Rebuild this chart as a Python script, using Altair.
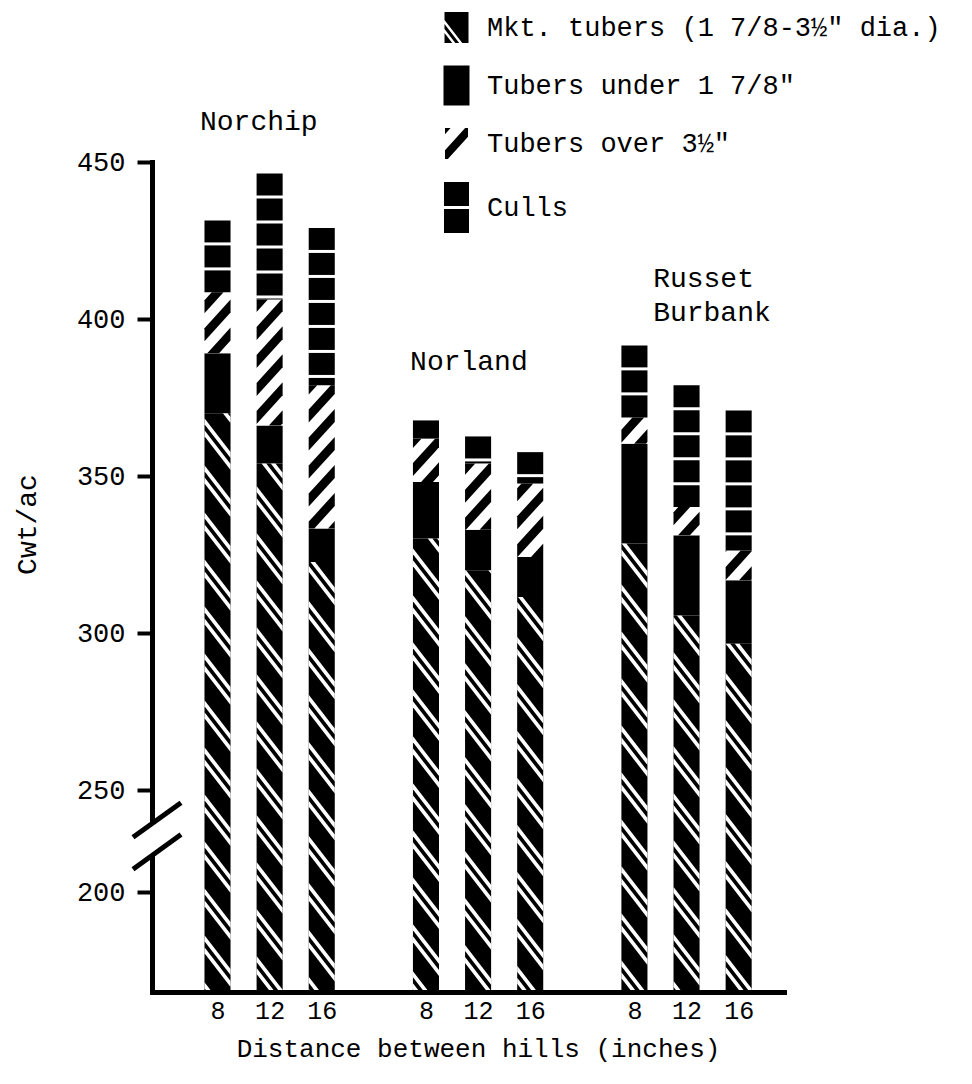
import json
import math
import altair as alt
import pandas as pd

# ---------------- data (cwt/ac) ----------------
GROUPS = ["Norchip", "Norland", "Russet\nBurbank"]
DISTANCES = ["8", "12", "16"]
SEGMENTS = ['Mkt. tubers (1 7/8-3½" dia.)', 'Tubers under 1 7/8"', 'Tubers over 3½"', "Culls"]
MKT = [370.0, 354.0, 322.6, 330.1, 320.0, 311.5, 328.5, 305.6, 296.6]
UNDER = [19.1, 12.1, 10.7, 18.0, 12.9, 12.7, 31.8, 25.5, 20.2]
OVER = [19.4, 40.1, 45.6, 13.8, 21.1, 23.4, 8.3, 9.0, 9.5]
CULLS = [22.9, 40.1, 50.1, 5.8, 8.6, 10.0, 23.0, 38.8, 44.6]

# ---------------- layout ----------------
FONT = "Liberation Mono"
W, H = 632, 830
XMIN, XMAX = -1.257, 10.87
YMIN, YMAX = 185.67, 450.0
BAR_HALF = 0.25
SLOTS_PER_GROUP = 4
Y_TICK_200 = 217.5          # where "200" sits on the broken axis
BREAK_HI, BREAK_LO = 239.3, 229.15
LABEL_DX = [-0.336, -0.305, 0.359]
LABEL_DY = [16.3, 18.5, 21.0]


def to_px(s, v):
    return ((s - XMIN) / (XMAX - XMIN) * W, (YMAX - v) / (YMAX - YMIN) * H)


def to_data(x, y):
    return (XMIN + x / W * (XMAX - XMIN), YMAX - y / H * (YMAX - YMIN))


def clip(poly, a, b, c):
    out = []
    n = len(poly)
    for i in range(n):
        P, Q = poly[i], poly[(i + 1) % n]
        fp = a * P[0] + b * P[1] - c
        fq = a * Q[0] + b * Q[1] - c
        if fp <= 0:
            out.append(P)
        if (fp < 0 < fq) or (fq < 0 < fp):
            t = fp / (fp - fq)
            out.append((P[0] + t * (Q[0] - P[0]), P[1] + t * (Q[1] - P[1])))
    return out


def poly_area(poly):
    s = 0
    for i in range(len(poly)):
        x1, y1 = poly[i]
        x2, y2 = poly[(i + 1) % len(poly)]
        s += x1 * y2 - x2 * y1
    return abs(s) / 2


def band_polys(rect, sign, k, period, bands):
    x0, y0, x1, y1 = rect
    corners = [(x0, y0), (x1, y0), (x1, y1), (x0, y1)]
    us = [y + sign * k * x for x, y in corners]
    res = []
    for n in range(math.floor(min(us) / period) - 1, math.ceil(max(us) / period) + 2):
        for off, w in bands:
            lo = n * period + off
            hi = lo + w
            p = clip(corners, sign * k, 1, hi)
            if len(p) >= 3:
                p = clip(p, -sign * k, -1, -lo)
            if len(p) >= 3 and poly_area(p) > 0.3:
                res.append(p)
    return res


def poly_to_area(poly):
    xs_ = sorted(set(round(x, 4) for x, _ in poly))
    pts = []
    for x in xs_:
        ys_ = []
        n = len(poly)
        for i in range(n):
            P, Q = poly[i], poly[(i + 1) % n]
            if min(P[0], Q[0]) - 1e-3 <= x <= max(P[0], Q[0]) + 1e-3:
                if abs(Q[0] - P[0]) < 1e-6:
                    ys_ += [P[1], Q[1]]
                else:
                    t = (x - P[0]) / (Q[0] - P[0])
                    ys_.append(P[1] + t * (Q[1] - P[1]))
        if ys_:
            pts.append((x, min(ys_), max(ys_)))
    return pts


# ---------------- build tables ----------------
bar_rows, white_rows, black_rows, gap_rows = [], [], [], []
sid = 0


def add_stripes(target, polys):
    global sid
    for p in polys:
        for kk, (x, ylo_px, yhi_px) in enumerate(poly_to_area(p)):
            s, v_bottom = to_data(x, yhi_px)
            _, v_top = to_data(x, ylo_px)
            target.append({"s": s, "vb": v_bottom, "vt": v_top, "sid": sid, "k": kk})
        sid += 1


for g in range(len(GROUPS)):
    for j in range(len(DISTANCES)):
        i = g * len(DISTANCES) + j
        slot = g * SLOTS_PER_GROUP + j
        t1 = MKT[i]
        t2 = t1 + UNDER[i]
        t3 = t2 + OVER[i]
        t4 = t3 + CULLS[i]
        segs = [(YMIN, t1, "black"), (t1, t2, "black"), (t2, t3, "white"), (t3, t4, "black")]
        for (a, b, fill), name in zip(segs, SEGMENTS):
            bar_rows.append({"x": slot - BAR_HALF, "x2": slot + BAR_HALF, "y": a, "y2": b,
                             "fill": fill, "seg": name})
        # marketable tubers: white double "\" lines on black
        xa, ya = to_px(slot - BAR_HALF, t1)
        xb, yb = to_px(slot + BAR_HALF, YMIN)
        add_stripes(white_rows, band_polys((xa, ya, xb, yb - 2), -1, 1.3, 47, [(0, 6), (12, 6)]))
        # tubers over 3.5": black "/" stripes on white
        xa, ya = to_px(slot - BAR_HALF, t3)
        xb, yb = to_px(slot + BAR_HALF, t2)
        add_stripes(black_rows, band_polys((xa, ya, xb, yb), 1, 1.1, 28, [(0, 13)]))
        # culls: stacked blocks separated by thin white gaps
        _, ytop = to_px(slot, t4)
        _, ybot = to_px(slot, t3)
        m = 0
        while True:
            gt = ytop + 22 + 25 * m
            if gt >= ybot - 1:
                break
            gb = min(gt + 3, ybot)
            gap_rows.append({"x": slot - BAR_HALF - 0.01, "x2": slot + BAR_HALF + 0.01,
                             "y": to_data(0, gb)[1], "y2": to_data(0, gt)[1]})
            m += 1

bars = pd.DataFrame(bar_rows)
white_stripes = pd.DataFrame(white_rows).sort_values(["sid", "k"])
black_stripes = pd.DataFrame(black_rows).sort_values(["sid", "k"])
gaps = pd.DataFrame(gap_rows)

label_rows = []
for g, name in enumerate(GROUPS):
    idx = range(g * 3, g * 3 + 3)
    tops = [MKT[i] + UNDER[i] + OVER[i] + CULLS[i] for i in idx]
    label_rows.append({"x": g * SLOTS_PER_GROUP + LABEL_DX[g], "y": max(tops) + LABEL_DY[g], "t": name})
labels = pd.DataFrame(label_rows)


# ---------------- legend symbols (custom paths) ----------------
def path_from(polys, r=13.0):
    parts = []
    for p in polys:
        parts.append("M" + " L".join(f"{x / r:.3f},{y / r:.3f}" for x, y in p) + " Z")
    return " ".join(parts)


ICON_MKT = path_from(band_polys((-12, -15.5, 12, 15.5), -1, 1.3, 1000, [(-60, 68), (12, 5), (21, 40)]))
ICON_UNDER = path_from([[(-13, -20), (13, -20), (13, 20), (-13, 20)]])
ICON_OVER = path_from(band_polys((-11.5, -15.5, 11.5, 15.5), 1, 1.1, 1000, [(-60, 38), (-6, 12)]))
ICON_CULLS = path_from([[(-12.5, -25.5), (12.5, -25.5), (12.5, -1.5), (-12.5, -1.5)],
                        [(-12.5, 1.5), (12.5, 1.5), (12.5, 25.5), (-12.5, 25.5)]])
ICONS = [ICON_MKT, ICON_UNDER, ICON_OVER, ICON_CULLS]
legend_df = pd.DataFrame({"seg": SEGMENTS})

# ---------------- axes ----------------
x_ticks = [g * SLOTS_PER_GROUP + j for g in range(len(GROUPS)) for j in range(len(DISTANCES))]
x_axis = alt.Axis(values=x_ticks,
                  labelExpr=json.dumps(DISTANCES) + f"[datum.value % {SLOTS_PER_GROUP}]",
                  title="Distance between hills (inches)", ticks=False, tickSize=0,
                  domainWidth=5, domainColor="black", domainCap="square",
                  labelFont=FONT, labelFontSize=25, labelColor="black", labelPadding=6,
                  titleFont=FONT, titleFontSize=26, titleFontWeight="normal", titleColor="black",
                  titleX=326, titleY=64, titleAlign="center", titleBaseline="alphabetic",
                  grid=False, zindex=1)
y_axis = alt.Axis(values=[Y_TICK_200, 250, 300, 350, 400, 450],
                  labelExpr="datum.value < 240 ? '200' : datum.label",
                  title="Cwt/ac", tickSize=15, tickWidth=4, tickColor="black",
                  domainWidth=5, domainColor="black", domainCap="square",
                  labelFont=FONT, labelFontSize=27, labelColor="black", labelPadding=12,
                  titleFont=FONT, titleFontSize=28, titleFontWeight="normal", titleColor="black",
                  titleX=-125, titleY=362, titleAngle=270, titleAlign="center",
                  titleBaseline="middle", grid=False, zindex=0)
xsc = alt.Scale(domain=[XMIN, XMAX], nice=False, zero=False)
ysc = alt.Scale(domain=[YMIN, YMAX], nice=False, zero=False)

bar_layer = alt.Chart(bars).mark_rect().encode(
    x=alt.X("x:Q", scale=xsc, axis=x_axis),
    x2="x2",
    y=alt.Y("y:Q", scale=ysc, axis=y_axis),
    y2="y2",
    fill=alt.Fill("fill:N", scale=None),
)


def stripe_layer(df, colour):
    return alt.Chart(df).mark_area(orient="vertical", color=colour, opacity=1,
                                   strokeWidth=0).encode(
        x=alt.X("s:Q", scale=xsc, axis=x_axis),
        y=alt.Y("vb:Q", scale=ysc, axis=y_axis, stack=None),
        y2="vt:Q",
        detail="sid:N",
    )


gap_layer = alt.Chart(gaps).mark_rect(color="white").encode(
    x=alt.X("x:Q", scale=xsc, axis=x_axis),
    x2="x2",
    y=alt.Y("y:Q", scale=ysc, axis=y_axis),
    y2="y2",
)

label_layer = alt.Chart(labels).mark_text(
    align="left", baseline="middle", font=FONT, fontSize=28, lineBreak="\n",
    lineHeight=34, color="black"
).encode(
    x=alt.X("x:Q", scale=xsc, axis=x_axis),
    y=alt.Y("y:Q", scale=ysc, axis=y_axis),
    text="t:N",
)

# axis break
gap_axis = alt.Chart(pd.DataFrame({"a": [BREAK_HI], "b": [BREAK_LO]})).mark_rule(
    color="white", strokeWidth=9
).encode(x=alt.value(0), y=alt.Y("a:Q", scale=ysc, axis=y_axis), y2="b")

slash_df = pd.DataFrame({"y": [BREAK_HI - 4.36, BREAK_LO - 4.36],
                         "y2": [BREAK_HI + 6.65, BREAK_LO + 6.65]})
slash_layer = alt.Chart(slash_df).mark_rule(color="black", strokeWidth=5).encode(
    x=alt.value(-19), x2=alt.value(29),
    y=alt.Y("y:Q", scale=ysc, axis=y_axis), y2="y2",
)

legend_layer = alt.Chart(legend_df).mark_point(filled=True, opacity=0, size=0, color="black").encode(
    x=alt.value(0), y=alt.value(0),
    shape=alt.Shape("seg:N", scale=alt.Scale(domain=SEGMENTS, range=ICONS),
                    legend=alt.Legend(orient="none", legendX=291, legendY=-148, title=None,
                                      labelFont=FONT, labelFontSize=27, labelColor="black",
                                      labelLimit=800, labelOffset=17, symbolSize=676,
                                      symbolFillColor="black", symbolStrokeColor="black",
                                      symbolStrokeWidth=0, symbolOpacity=1, rowPadding=22,
                                      padding=0, direction="vertical")),
)

chart = alt.layer(
    bar_layer, stripe_layer(white_stripes, "white"), stripe_layer(black_stripes, "black"),
    gap_layer, label_layer, gap_axis, slash_layer, legend_layer
).properties(
    width=W, height=H,
    autosize=alt.AutoSizeParams(type="none"),
    padding={"left": 144, "top": 154, "right": 180, "bottom": 78},
    background="white",
).configure_view(stroke=None)

chart.save("out.html", embed_options={"renderer": "svg", "actions": False})
